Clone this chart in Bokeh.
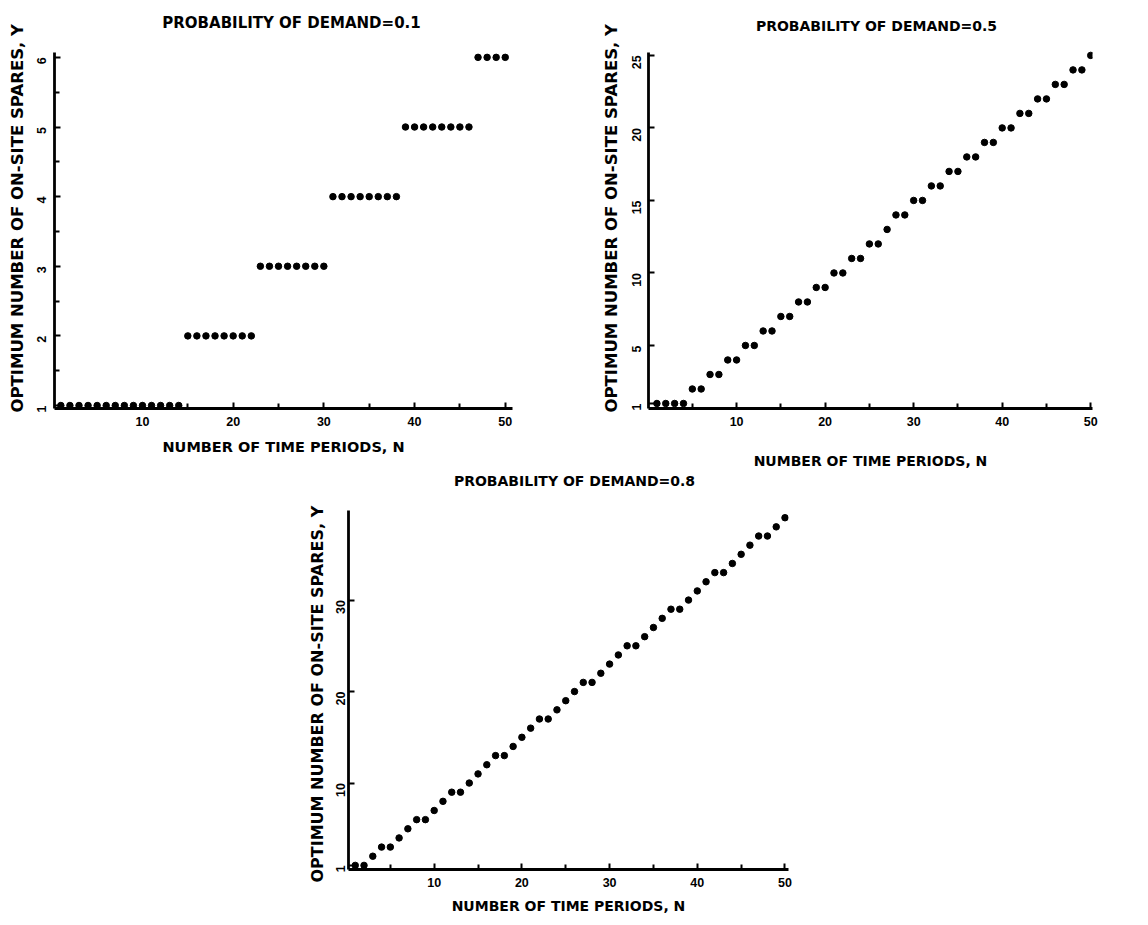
import math
from bokeh.plotting import figure
from bokeh.models import Range1d, FixedTicker, Spacer, Label, Title
from bokeh.layouts import row, column
from bokeh.embed import file_html
from bokeh.resources import INLINE

# ---------------- data ----------------
time_periods = [1, 2, 3, 4, 5, 6, 7, 8, 9, 10,
                11, 12, 13, 14, 15, 16, 17, 18, 19, 20,
                21, 22, 23, 24, 25, 26, 27, 28, 29, 30,
                31, 32, 33, 34, 35, 36, 37, 38, 39, 40,
                41, 42, 43, 44, 45, 46, 47, 48, 49, 50]

spares_p01 = [1, 1, 1, 1, 1, 1, 1, 1, 1, 1,
              1, 1, 1, 1, 2, 2, 2, 2, 2, 2,
              2, 2, 3, 3, 3, 3, 3, 3, 3, 3,
              4, 4, 4, 4, 4, 4, 4, 4, 5, 5,
              5, 5, 5, 5, 5, 5, 6, 6, 6, 6]

spares_p05 = [1, 1, 1, 1, 2, 2, 3, 3, 4, 4,
              5, 5, 6, 6, 7, 7, 8, 8, 9, 9,
              10, 10, 11, 11, 12, 12, 13, 14, 14, 15,
              15, 16, 16, 17, 17, 18, 18, 19, 19, 20,
              20, 21, 21, 22, 22, 23, 23, 24, 24, 25]

spares_p08 = [1, 1, 2, 3, 3, 4, 5, 6, 6, 7,
              8, 9, 9, 10, 11, 12, 13, 13, 14, 15,
              16, 17, 17, 18, 19, 20, 21, 21, 22, 23,
              24, 25, 25, 26, 27, 28, 29, 29, 30, 31,
              32, 33, 33, 34, 35, 36, 37, 37, 38, 39]

titles = ["PROBABILITY OF DEMAND=0.1",
          "PROBABILITY OF DEMAND=0.5",
          "PROBABILITY OF DEMAND=0.8"]
x_title = "NUMBER OF TIME PERIODS, N"
y_title = "OPTIMUM NUMBER OF ON-SITE SPARES, Y"

x_major = [10, 20, 30, 40, 50]
x_minor = [5, 15, 25, 35, 45]
y_major_p01 = [1, 2, 3, 4, 5, 6]
y_minor_p01 = [1.5, 2.5, 3.5, 4.5, 5.5]
y_major_p05 = [1, 5, 10, 15, 20, 25]
y_major_p08 = [1, 10, 20, 30]

TICK_FONT = "Liberation Sans"
LABEL_FONT = "DejaVu Sans"


def panel(title, ys, width, bl, br, bb, axis_h, top_pad, xr, yr, ymaj, ymin,
          title_size, xlab_size, ylab_size, title_pos, xlab_standoff,
          ylab_standoff, ylab_offset, xtick_standoff, ytick_standoff):
    # the frame is extended above the y-axis so the title can sit inside it
    frame_h = axis_h + top_pad
    y_end = yr[0] + (yr[1] - yr[0]) * frame_h / axis_h
    p = figure(width=width, height=frame_h + bb,
               x_range=Range1d(*xr), y_range=Range1d(yr[0], y_end),
               output_backend="svg", toolbar_location=None,
               min_border_left=bl, min_border_top=0,
               min_border_right=br, min_border_bottom=bb)
    p.outline_line_color = None
    p.xgrid.visible = False
    p.ygrid.visible = False
    p.background_fill_color = "white"
    p.border_fill_color = "white"

    p.add_layout(Label(x=title_pos[0], y=frame_h - title_pos[1],
                       x_units="screen", y_units="screen",
                       text=title, text_align="center",
                       text_baseline="middle", text_font=LABEL_FONT,
                       text_font_style="bold", text_font_size=title_size,
                       text_color="black"))

    p.scatter(time_periods, ys, size=6.5, color="black", marker="circle")

    xa = p.xaxis[0]
    xa.ticker = FixedTicker(ticks=x_major, minor_ticks=x_minor)
    ya = p.yaxis[0]
    ya.ticker = FixedTicker(ticks=ymaj, minor_ticks=ymin)
    ya.bounds = (yr[0], yr[1])

    for ax in (xa, ya):
        ax.axis_line_width = 2.8
        ax.axis_line_color = "black"
        ax.major_tick_in = 6
        ax.major_tick_out = 0
        ax.minor_tick_in = 5
        ax.minor_tick_out = 0
        ax.major_tick_line_width = 2
        ax.minor_tick_line_width = 2
        ax.major_tick_line_color = "black"
        ax.minor_tick_line_color = "black"
        ax.major_label_text_font = TICK_FONT
        ax.major_label_text_font_style = "bold"
        ax.major_label_text_font_size = "12.5px"
        ax.major_label_text_color = "black"
        ax.axis_label_text_font = LABEL_FONT
        ax.axis_label_text_font_style = "bold"
        ax.axis_label_text_color = "black"

    xa.axis_label = x_title
    xa.axis_label_text_font_size = xlab_size
    xa.axis_label_standoff = xlab_standoff
    xa.major_label_standoff = xtick_standoff
    ya.major_label_standoff = ytick_standoff
    ya.major_label_orientation = math.pi / 2

    # y-axis title, anchored at the bottom of the axis so it can be shifted
    p.add_layout(Title(text=y_title, align="left", vertical_align="bottom",
                       offset=ylab_offset, standoff=ylab_standoff,
                       text_font=LABEL_FONT, text_font_style="bold",
                       text_font_size=ylab_size, text_color="black"), "left")
    return p


# title_pos: (x from frame left, y distance below the top of the figure area)
p1 = panel(titles[0], spares_p01, 594, 54, 82, 64, 356, 52,
           (0.3, 50.8), (0.957, 6.07), y_major_p01, y_minor_p01,
           "15px", "14.5px", "16.5px", (237, 22), 10, 6, -4, 8, 13)
p2 = panel(titles[1], spares_p05, 534, 54, 36, 64, 356, 52,
           (0.05, 50.2), (0.655, 25.2), y_major_p05, [],
           "14px", "14px", "16.5px", (228, 25), 24, 7, -4, 8, 12)
p3 = panel(titles[2], spares_p08, 508, 48, 20, 46, 360, 38,
           (0.23, 50.4), (0.55, 39.8), y_major_p08, [],
           "14px", "14px", "16px", (226, 9), 8, 4, -13, 8, 8)

layout = column(row(p1, p2), row(Spacer(width=300, height=444), p3))

open("out.html", "w").write(file_html(layout, INLINE))
